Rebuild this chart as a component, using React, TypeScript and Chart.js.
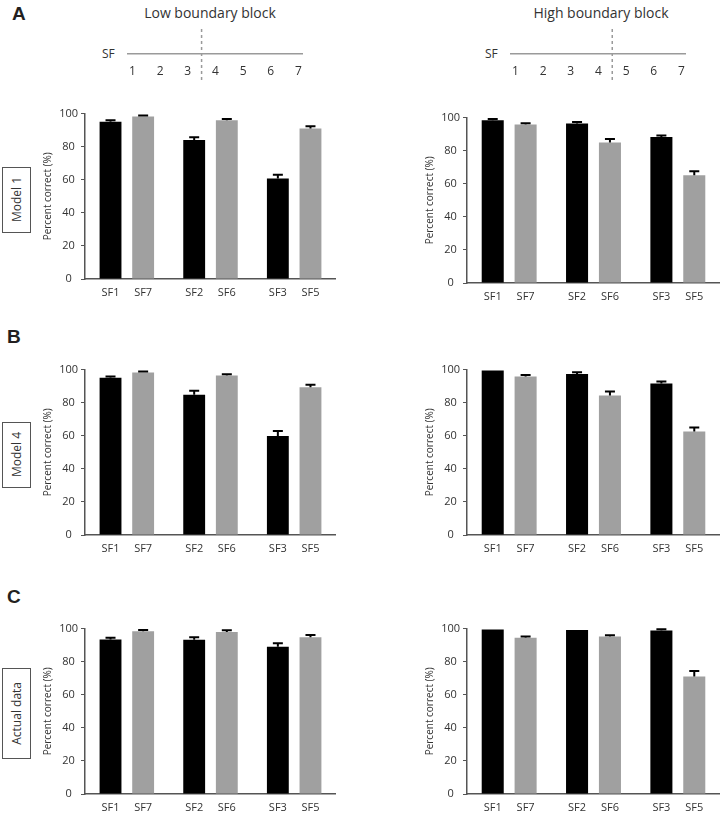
import React, { useEffect, useRef } from "react";
import { Chart, registerables } from "chart.js";

Chart.register(...registerables);

const FONT = "'Open Sans', 'Noto Sans', sans-serif";
const TEXT = "#333333";
const AXIS = "#555555";

// ---------------- data ----------------
const blackLabels = ["SF1", "SF2", "SF3"];
const grayLabels = ["SF7", "SF6", "SF5"];
const groupLabels = ["SF1/SF7", "SF2/SF6", "SF3/SF5"];
const sfScale = [1, 2, 3, 4, 5, 6, 7];
const lowBoundary = 3.5;
const highBoundary = 4.5;
const yTickStep = 20;
const yMax = 100;

// Model 1
const model1LowBlack = [95.0, 84.1, 60.8];
const model1LowBlackErr = [1.0, 1.6, 2.3];
const model1LowGray = [98.2, 96.0, 91.0];
const model1LowGrayErr = [0.6, 0.8, 1.4];
const model1HighBlack = [98.4, 96.4, 88.2];
const model1HighBlackErr = [0.8, 1.0, 1.0];
const model1HighGray = [95.8, 85.0, 65.2];
const model1HighGrayErr = [0.8, 2.0, 2.4];

// Model 4
const model4LowBlack = [95.0, 84.8, 59.9];
const model4LowBlackErr = [0.8, 2.4, 3.0];
const model4LowGray = [98.2, 96.4, 89.4];
const model4LowGrayErr = [0.6, 0.8, 1.4];
const model4HighBlack = [99.4, 97.4, 91.6];
const model4HighBlackErr = [0, 1.0, 1.2];
const model4HighGray = [95.8, 84.4, 62.6];
const model4HighGrayErr = [1.0, 2.4, 2.4];

// Actual data
const actualLowBlack = [93.4, 93.2, 89.0];
const actualLowBlackErr = [1.0, 1.6, 2.2];
const actualLowGray = [98.4, 98.0, 94.8];
const actualLowGrayErr = [0.8, 1.0, 1.4];
const actualHighBlack = [99.4, 99.2, 98.8];
const actualHighBlackErr = [0, 0, 0.8];
const actualHighGray = [94.4, 95.2, 71.0];
const actualHighGrayErr = [0.8, 0.8, 3.4];

// ---------------- layout ----------------
const panels = [
  { axisX: 85, right: 336, y100: 112, y0: 279, black: model1LowBlack, blackErr: model1LowBlackErr, gray: model1LowGray, grayErr: model1LowGrayErr },
  { axisX: 467, right: 720, y100: 116, y0: 283, black: model1HighBlack, blackErr: model1HighBlackErr, gray: model1HighGray, grayErr: model1HighGrayErr },
  { axisX: 85, right: 336, y100: 368, y0: 535, black: model4LowBlack, blackErr: model4LowBlackErr, gray: model4LowGray, grayErr: model4LowGrayErr },
  { axisX: 467, right: 720, y100: 368, y0: 535, black: model4HighBlack, blackErr: model4HighBlackErr, gray: model4HighGray, grayErr: model4HighGrayErr },
  { axisX: 85, right: 336, y100: 627, y0: 794, black: actualLowBlack, blackErr: actualLowBlackErr, gray: actualLowGray, grayErr: actualLowGrayErr },
  { axisX: 467, right: 720, y100: 627, y0: 794, black: actualHighBlack, blackErr: actualHighBlackErr, gray: actualHighGray, grayErr: actualHighGrayErr },
];

const Y_AXIS_W = 49;
const PAD_TOP = 8;
const X_AXIS_H = 24;

const errorBarPlugin = {
  id: "errorBarsAndLabels",
  afterDatasetsDraw(chart: any) {
    const { ctx } = chart;
    const yScale = chart.scales.y;
    chart.data.datasets.forEach((ds: any, di: number) => {
      const meta = chart.getDatasetMeta(di);
      meta.data.forEach((bar: any, i: number) => {
        const e = ds.errors ? ds.errors[i] : 0;
        if (e && e > 0) {
          const top = yScale.getPixelForValue(ds.data[i] + e);
          ctx.save();
          ctx.strokeStyle = "#000";
          ctx.lineWidth = 2;
          ctx.beginPath();
          ctx.moveTo(bar.x, bar.y);
          ctx.lineTo(bar.x, top);
          ctx.moveTo(bar.x - 5, top);
          ctx.lineTo(bar.x + 5, top);
          ctx.stroke();
          ctx.restore();
        }
      });
    });
  },
  afterDraw(chart: any) {
    const { ctx, chartArea } = chart;
    chart.data.datasets.forEach((ds: any, di: number) => {
      const meta = chart.getDatasetMeta(di);
      meta.data.forEach((bar: any, i: number) => {
        ctx.save();
        ctx.fillStyle = TEXT;
        ctx.font = `11px ${FONT}`;
        ctx.textAlign = "center";
        ctx.textBaseline = "middle";
        ctx.fillText(ds.barLabels[i], bar.x, chartArea.bottom + 14);
        ctx.restore();
      });
    });
  },
};

function BarPanel({ p }: { p: any }) {
  const ref = useRef<HTMLCanvasElement>(null);
  const left = p.axisX - Y_AXIS_W;
  const width = p.right - left;
  const top = Math.round(p.y100 - PAD_TOP);
  const height = Math.round(p.y0 - p.y100) + PAD_TOP + X_AXIS_H;
  useEffect(() => {
    if (!ref.current) return;
    const chart = new Chart(ref.current, {
      type: "bar",
      data: {
        labels: groupLabels,
        datasets: [
          { data: p.black, backgroundColor: "#000000", errors: p.blackErr, barLabels: blackLabels } as any,
          { data: p.gray, backgroundColor: "#a0a0a0", errors: p.grayErr, barLabels: grayLabels } as any,
        ],
      },
      options: {
        responsive: false,
        animation: false,
        events: [],
        layout: { padding: { top: PAD_TOP, right: 0, left: 0, bottom: 0 } },
        datasets: { bar: { categoryPercentage: 0.78, barPercentage: 0.67 } },
        plugins: { legend: { display: false }, tooltip: { enabled: false } },
        scales: {
          x: {
            grid: { display: false },
            border: { display: true, color: AXIS, width: 1.5 },
            ticks: { display: false },
            afterFit: (s: any) => { s.height = X_AXIS_H; },
          },
          y: {
            min: 0,
            max: yMax,
            ticks: { stepSize: yTickStep, font: { family: FONT, size: 11 }, color: TEXT, crossAlign: "center", padding: 3 },
            grid: { display: true, drawOnChartArea: false, drawTicks: true, tickLength: 4, color: AXIS, lineWidth: 1 },
            border: { display: true, color: AXIS, width: 1.5 },
            title: { display: true, text: "Percent correct (%)", font: { family: FONT, size: 10 }, color: TEXT, padding: { top: 6, bottom: 0 } },
            afterFit: (s: any) => { s.width = Y_AXIS_W; },
          },
        },
      } as any,
      plugins: [errorBarPlugin],
    });
    return () => chart.destroy();
  }, []);
  return (
    <canvas
      ref={ref}
      width={width}
      height={height}
      style={{ position: "absolute", left, top, width, height }}
    />
  );
}

const SCALE_MIN = 0.84;
const SCALE_MAX = 7.13;

const boundaryPlugin = {
  id: "boundaryLine",
  afterDraw(chart: any) {
    const { ctx } = chart;
    const x = chart.scales.x.getPixelForValue(chart.options.plugins.boundaryLine.value);
    ctx.save();
    ctx.strokeStyle = "#9a9a9a";
    ctx.lineWidth = 1.5;
    ctx.setLineDash([3, 3]);
    ctx.beginPath();
    ctx.moveTo(x, 4);
    ctx.lineTo(x, chart.height - 5);
    ctx.stroke();
    ctx.restore();
  },
};

function SfScale({ areaLeft, areaRight, boundary }: { areaLeft: number; areaRight: number; boundary: number }) {
  const ref = useRef<HTMLCanvasElement>(null);
  const left = areaLeft - 25;
  const width = areaRight - left + 12;
  const top = 25;
  const height = 63;
  useEffect(() => {
    if (!ref.current) return;
    const chart = new Chart(ref.current, {
      type: "scatter",
      data: { datasets: [{ data: [] }] },
      options: {
        responsive: false,
        animation: false,
        events: [],
        layout: { padding: { top: 4, left: areaLeft - left, right: width - (areaRight - left), bottom: 0 } },
        plugins: { legend: { display: false }, tooltip: { enabled: false }, boundaryLine: { value: boundary } },
        scales: {
          x: {
            type: "linear",
            min: SCALE_MIN,
            max: SCALE_MAX,
            afterBuildTicks: (s: any) => { s.ticks = sfScale.map((v) => ({ value: v })); },
            ticks: { font: { family: FONT, size: 12 }, color: TEXT, padding: 2, autoSkip: false, maxRotation: 0 },
            grid: { display: false },
            border: { display: true, color: "#9a9a9a", width: 1.5 },
            afterFit: (s: any) => { s.height = 34; },
          },
          y: { display: false, min: 0, max: 1 },
        },
      } as any,
      plugins: [boundaryPlugin],
    });
    return () => chart.destroy();
  }, []);
  return (
    <canvas
      ref={ref}
      width={width}
      height={height}
      style={{ position: "absolute", left, top, width, height }}
    />
  );
}

const abs = (s: any) => ({ position: "absolute" as const, ...s });

function RowLabel({ text, top, height }: { text: string; top: number; height: number }) {
  return (
    <div
      style={abs({
        left: 2,
        top,
        width: 27,
        height,
        border: "1px solid #555",
        display: "flex",
        alignItems: "center",
        justifyContent: "center",
        background: "#fff",
      })}
    >
      <span
        style={{
          writingMode: "vertical-rl",
          transform: "rotate(180deg)",
          fontFamily: FONT,
          fontSize: 12,
          color: TEXT,
          whiteSpace: "nowrap",
        }}
      >
        {text}
      </span>
    </div>
  );
}

function Letter({ ch, left, top }: { ch: string; left: number; top: number }) {
  return (
    <div
      style={abs({
        left,
        top,
        fontFamily: "'Liberation Sans', Arial, sans-serif",
        fontWeight: 700,
        fontSize: 19,
        lineHeight: "19px",
        color: "#231f20",
      })}
    >
      {ch}
    </div>
  );
}

export default function App() {
  return (
    <div
      style={{
        position: "absolute",
        left: 0,
        top: 0,
        width: 720,
        height: 815,
        background: "#fff",
        overflow: "hidden",
      }}
    >
      <Letter ch="A" left={12} top={4} />
      <Letter ch="B" left={7} top={327} />
      <Letter ch="C" left={7} top={587} />

      <div style={abs({ left: 110, width: 200, top: 3, textAlign: "center", fontFamily: FONT, fontSize: 14, color: TEXT, whiteSpace: "nowrap" })}>
        Low boundary block
      </div>
      <div style={abs({ left: 501, width: 200, top: 3, textAlign: "center", fontFamily: FONT, fontSize: 14, color: TEXT, whiteSpace: "nowrap" })}>
        High boundary block
      </div>
      <div style={abs({ left: 102, top: 46, fontFamily: FONT, fontSize: 12, lineHeight: "16px", color: TEXT })}>SF</div>
      <div style={abs({ left: 485, top: 46, fontFamily: FONT, fontSize: 12, lineHeight: "16px", color: TEXT })}>SF</div>

      <SfScale areaLeft={127.6} areaRight={301.6} boundary={lowBoundary} />
      <SfScale areaLeft={510.6} areaRight={684.6} boundary={highBoundary} />

      <RowLabel text="Model 1" top={167} height={64} />
      <RowLabel text="Model 4" top={422} height={64} />
      <RowLabel text="Actual data" top={668} height={89} />

      {panels.map((p, i) => (
        <BarPanel key={i} p={p} />
      ))}
    </div>
  );
}
